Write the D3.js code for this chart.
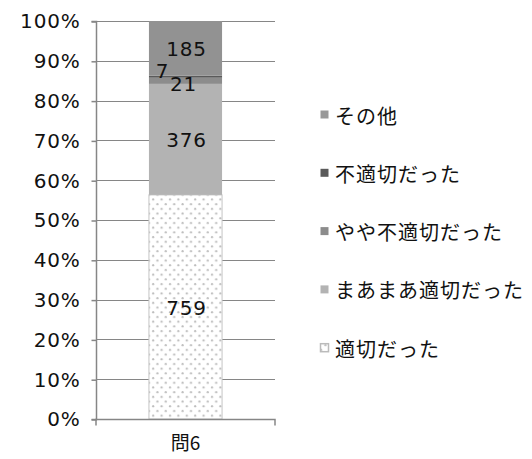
<!DOCTYPE html>
<html><head><meta charset="utf-8">
<script src="https://cdn.jsdelivr.net/npm/d3@7"></script>
<style>body{margin:0;background:#fff}svg{display:block}</style>
</head><body>
<svg id="chart" width="532" height="459"></svg>
<script>
const categories = ["問6"];
const seriesNames = ["適切だった", "まあまあ適切だった", "やや不適切だった", "不適切だった", "その他"];
const seriesValues = [759, 376, 21, 7, 185];
const yTickValues = [0, 0.1, 0.2, 0.3, 0.4, 0.5, 0.6, 0.7, 0.8, 0.9, 1.0];
const legendOrder = ["その他", "不適切だった", "やや不適切だった", "まあまあ適切だった", "適切だった"];

const fills = {"適切だった": "url(#dots)", "まあまあ適切だった": "#b3b3b3", "やや不適切だった": "#8c8c8c", "不適切だった": "#5a5a5a", "その他": "#929292"};
const labelShift = {"不適切だった": [-24, -7], "やや不適切だった": [-3, 2]};

const svg = d3.select("#chart");
const defs = svg.append("defs");
const pat = defs.append("pattern").attr("id", "dots").attr("patternUnits", "userSpaceOnUse")
  .attr("width", 8.4).attr("height", 9.4);
pat.append("rect").attr("width", 8.4).attr("height", 9.4).attr("fill", "#fff");
pat.append("circle").attr("cx", 2).attr("cy", 2).attr("r", 1.1).attr("fill", "#bdbdbd");
pat.append("circle").attr("cx", 6.2).attr("cy", 6.7).attr("r", 1.1).attr("fill", "#bdbdbd");

const margin = {left: 96, right: 275, top: 21, bottom: 419};
const x = d3.scaleBand().domain(categories).range([margin.left, margin.right]).padding(0.42);
const y = d3.scaleLinear().domain([0, 1]).range([margin.bottom, margin.top]);
const axisColor = "#868686";
const numFont = "'DejaVu Sans', sans-serif";
const jpFont = "'Noto Sans CJK JP', sans-serif";

// gridlines
svg.append("g").selectAll("line").data(yTickValues.filter(d => d > 0)).join("line")
  .attr("x1", margin.left).attr("x2", margin.right)
  .attr("y1", d => Math.round(y(d)) + 0.5).attr("y2", d => Math.round(y(d)) + 0.5)
  .attr("stroke", axisColor).attr("stroke-width", 1);

// stacked data
const total = d3.sum(seriesValues);
const rows = [Object.fromEntries([["cat", categories[0]], ...seriesNames.map((s, i) => [s, seriesValues[i] / total])])];
const stacked = d3.stack().keys(seriesNames)(rows);

const bw = x.bandwidth();
const barX = x(categories[0]);
const barG = svg.append("g");
stacked.forEach(layer => {
  const d = layer[0];
  barG.append("rect")
    .attr("x", barX).attr("width", bw)
    .attr("y", y(d[1])).attr("height", y(d[0]) - y(d[1]))
    .attr("fill", fills[layer.key])
    .attr("stroke", layer.key === "適切だった" ? "#c4c4c4" : "none")
    .attr("stroke-width", 1);
});

// y axis
const yAxis = d3.axisLeft(y).tickValues(yTickValues).tickFormat(d3.format(".0%")).tickSize(5).tickPadding(12);
const ya = svg.append("g").attr("transform", `translate(${margin.left + 0.5},0.5)`).call(yAxis);
ya.select(".domain").attr("stroke", axisColor).attr("stroke-width", 1.5).attr("d", `M-5,${margin.top}H0V${margin.bottom}H-5`);
ya.selectAll(".tick line").attr("stroke", axisColor).attr("stroke-width", 1.5);
ya.selectAll(".tick text").attr("font-family", numFont).attr("font-size", 20).attr("fill", "#111")
  .attr("letter-spacing", 0.8).attr("dx", 1);

// x axis
const xAxis = d3.axisBottom(x).tickSize(0).tickPadding(17);
const xa = svg.append("g").attr("transform", `translate(0,${margin.bottom + 0.5})`).call(xAxis);
xa.select(".domain").attr("stroke", axisColor).attr("stroke-width", 1.5).attr("d", `M${margin.left},6V0H${margin.right}V6`);
xa.selectAll(".tick text").attr("font-family", jpFont).attr("font-size", 19).attr("fill", "#111");

// data labels
stacked.forEach((layer, i) => {
  const d = layer[0];
  const sh = labelShift[layer.key] || [0, 0];
  svg.append("text")
    .attr("x", barX + bw / 2 + sh[0] + 1)
    .attr("y", (y(d[0]) + y(d[1])) / 2 + sh[1] + 1)
    .attr("text-anchor", "middle").attr("dominant-baseline", "central")
    .attr("font-family", numFont).attr("font-size", 20).attr("letter-spacing", 0.8)
    .attr("fill", "#111").text(seriesValues[i]);
});

// legend
const lg = svg.append("g");
legendOrder.forEach((name, i) => {
  const cy = 115 + i * 58.3;
  lg.append("rect").attr("x", 320.5).attr("y", cy - 4.5).attr("width", 8).attr("height", 8)
    .attr("fill", name === "その他" ? "#999" : fills[name])
    .attr("stroke", name === "適切だった" ? "#bbb" : "none").attr("stroke-width", 1.5);
  lg.append("text").attr("x", 335).attr("y", cy).attr("dominant-baseline", "central")
    .attr("font-family", jpFont).attr("font-size", 20).attr("letter-spacing", 1)
    .attr("fill", "#111").text(name);
});
</script>
</body></html>
